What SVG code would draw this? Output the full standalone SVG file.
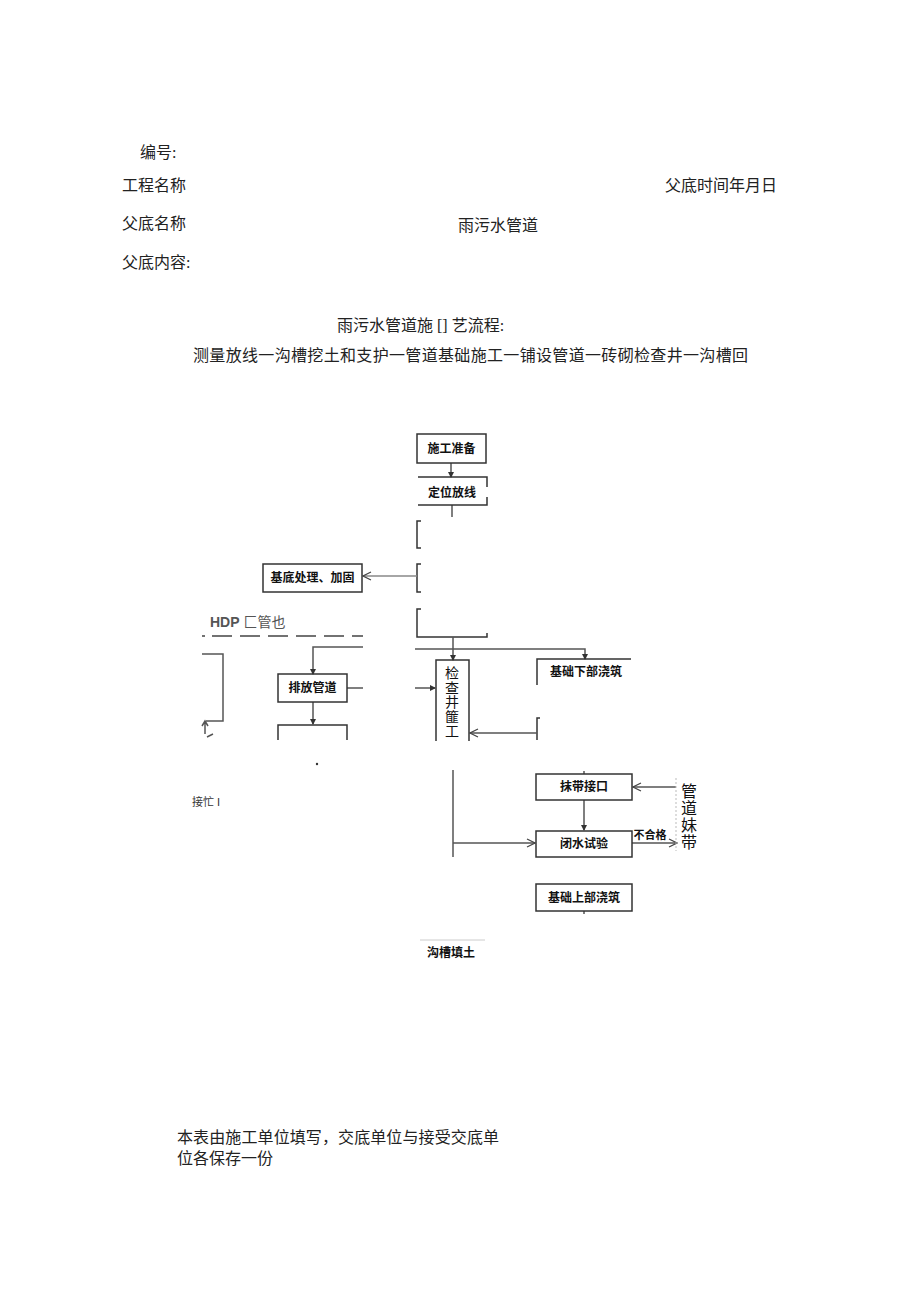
<svg xmlns="http://www.w3.org/2000/svg" width="920" height="1303" viewBox="0 0 920 1303">
<style>
.hd{font-family:"Liberation Serif","Noto Sans CJK SC",serif;font-size:16px;fill:#222}
.bx{fill:none;stroke:#333;stroke-width:1.5}
.bt{font-family:"Liberation Sans","Noto Sans CJK SC",sans-serif;font-size:12px;font-weight:bold;fill:#111;text-anchor:middle}
.ln{fill:none;stroke:#555;stroke-width:1.5}
.lg{fill:none;stroke:#888;stroke-width:1.5}
.vt{font-family:"Noto Sans CJK SC",sans-serif;fill:#111;writing-mode:vertical-rl}
</style>
<defs>
<marker id="arr" markerWidth="6" markerHeight="6" refX="5" refY="3" orient="auto" markerUnits="userSpaceOnUse"><path d="M0,0 L6,3 L0,6 Z" fill="#333"/></marker>
<marker id="open" markerWidth="10" markerHeight="10" refX="9" refY="5" orient="auto" markerUnits="userSpaceOnUse"><path d="M1,1 L9,5 L1,9" fill="none" stroke="#444" stroke-width="1.2"/></marker>
</defs>
<rect width="920" height="1303" fill="#fff"/>
<g id="header">
<text class="hd" x="140" y="158">编号:</text>
<text class="hd" x="122" y="191">工程名称</text>
<text class="hd" x="665" y="191">父底时间年月日</text>
<text class="hd" x="122" y="229">父底名称</text>
<text class="hd" x="458" y="231">雨污水管道</text>
<text class="hd" x="122" y="268">父底内容:</text>
<text class="hd" x="337" y="331">雨污水管道施 [] 艺流程:</text>
<text class="hd" x="193" y="361" textLength="555">测量放线一沟槽挖土和支护一管道基础施工一铺设管道一砖砌检查井一沟槽回</text>
</g>
<g id="connectors">
<line class="ln" x1="451" y1="463" x2="451" y2="477" marker-end="url(#arr)"/>
<line class="ln" x1="452" y1="505" x2="452" y2="517"/>
<path class="bx" d="M421,521 H417 V548 H421"/>
<path class="bx" d="M421,564 H417 V592 H421"/>
<line class="lg" x1="417" y1="576" x2="363" y2="576" marker-end="url(#open)"/>
<path class="bx" d="M421,609 H417 V637 H487 V633"/>
<line class="ln" x1="453" y1="637" x2="453" y2="660" marker-end="url(#arr)"/>
<path class="ln" d="M415,649 H585 V659" marker-end="url(#arr)"/>
<line class="ln" x1="415" y1="688" x2="435" y2="688" marker-end="url(#arr)"/>
<path class="bx" d="M540,718 H537 V740"/>
<line class="ln" x1="537" y1="733" x2="470" y2="733" marker-end="url(#open)"/>
<path class="ln" d="M363,647 H313 V674" marker-end="url(#arr)"/>
<line class="ln" x1="347" y1="688" x2="363" y2="688"/>
<line class="ln" x1="313" y1="702" x2="313" y2="724" marker-end="url(#arr)"/>
<line x1="202" y1="636" x2="363" y2="636" stroke="#444" stroke-width="1.5" stroke-dasharray="3,7,20,8,20,8,20,8,20,8,20,8,20,8"/>
<path class="ln" d="M202,654 H223 V721 H206"/>
<path class="ln" d="M205,734 V722 M202,726 L205,721 L208,726 M207,737 L213,734"/>
<circle cx="317" cy="764" r="1.2" fill="#333"/>
<line class="ln" x1="453" y1="770" x2="453" y2="857"/>
<line class="ln" x1="453" y1="843" x2="535" y2="843" marker-end="url(#open)"/>
<line class="ln" x1="584" y1="800" x2="584" y2="830" marker-end="url(#arr)"/>
<line class="ln" x1="584" y1="771" x2="584" y2="774"/>
<line class="ln" x1="676" y1="787" x2="633" y2="787" marker-end="url(#open)"/>
<line class="ln" x1="632" y1="843" x2="677" y2="843" marker-end="url(#open)"/>
<line x1="676" y1="778" x2="676" y2="851" stroke="#bbb" stroke-width="1" stroke-dasharray="2,2"/>
<line class="ln" x1="584" y1="911" x2="584" y2="914"/>
</g>
<g id="n1"><rect class="bx" x="417" y="434" width="69" height="29"/><text class="bt" x="451.5" y="453">施工准备</text></g>
<g id="n2"><path class="bx" d="M418,477 H487 V487 M487,497 V505 H418"/><text class="bt" x="452" y="497">定位放线</text></g>
<g id="n3"><rect class="bx" x="263" y="564" width="99" height="28"/><text class="bt" x="312.5" y="582">基底处理、加固</text></g>
<g id="n4"><text x="210" y="627" font-family="Liberation Sans,Noto Sans CJK SC,sans-serif" font-size="14" fill="#555"><tspan font-weight="bold">HDP</tspan> 匚管也</text></g>
<g id="n5"><rect class="bx" x="278" y="674" width="69" height="28"/><text class="bt" x="312.5" y="692">排放管道</text></g>
<g id="n6"><path class="bx" d="M278,740 V725 H347 V740"/></g>
<g id="n7"><path class="bx" d="M436,741 V660 H469 V741"/>
<text class="vt" x="452" y="666" font-size="14" letter-spacing="0.5">检查井篚工</text></g>
<g id="n8"><path class="bx" d="M537,685 V659 H631"/><text class="bt" x="586" y="676">基础下部浇筑</text></g>
<g id="n9"><text x="192" y="806" font-family="Liberation Sans,Noto Sans CJK SC,sans-serif" font-size="11" fill="#333">接忙 I</text></g>
<g id="n10"><rect class="bx" x="536" y="774" width="96" height="26"/><text class="bt" x="584" y="791">抹带接口</text></g>
<g id="n11"><rect class="bx" x="536" y="831" width="96" height="26"/><text class="bt" x="584" y="848">闭水试验</text></g>
<g id="n12"><text x="650" y="839" font-family="Liberation Sans,Noto Sans CJK SC,sans-serif" font-size="11" font-weight="bold" fill="#111" text-anchor="middle">不合格</text></g>
<g id="n13"><text class="vt" x="689" y="783" font-size="16" letter-spacing="1">管道妹带</text></g>
<g id="n14"><rect class="bx" x="536" y="884" width="96" height="27"/><text class="bt" x="584" y="902">基础上部浇筑</text></g>
<g id="n15"><line x1="420" y1="940" x2="485" y2="940" stroke="#ccc" stroke-width="1"/><text class="bt" x="451" y="957">沟槽填土</text></g>
<g id="footer">
<text class="hd" x="177" y="1143" font-size="15" textLength="322">本表由施工单位填写，交底单位与接受交底单</text>
<text class="hd" x="177" y="1164" font-size="15">位各保存一份</text>
</g>
</svg>
